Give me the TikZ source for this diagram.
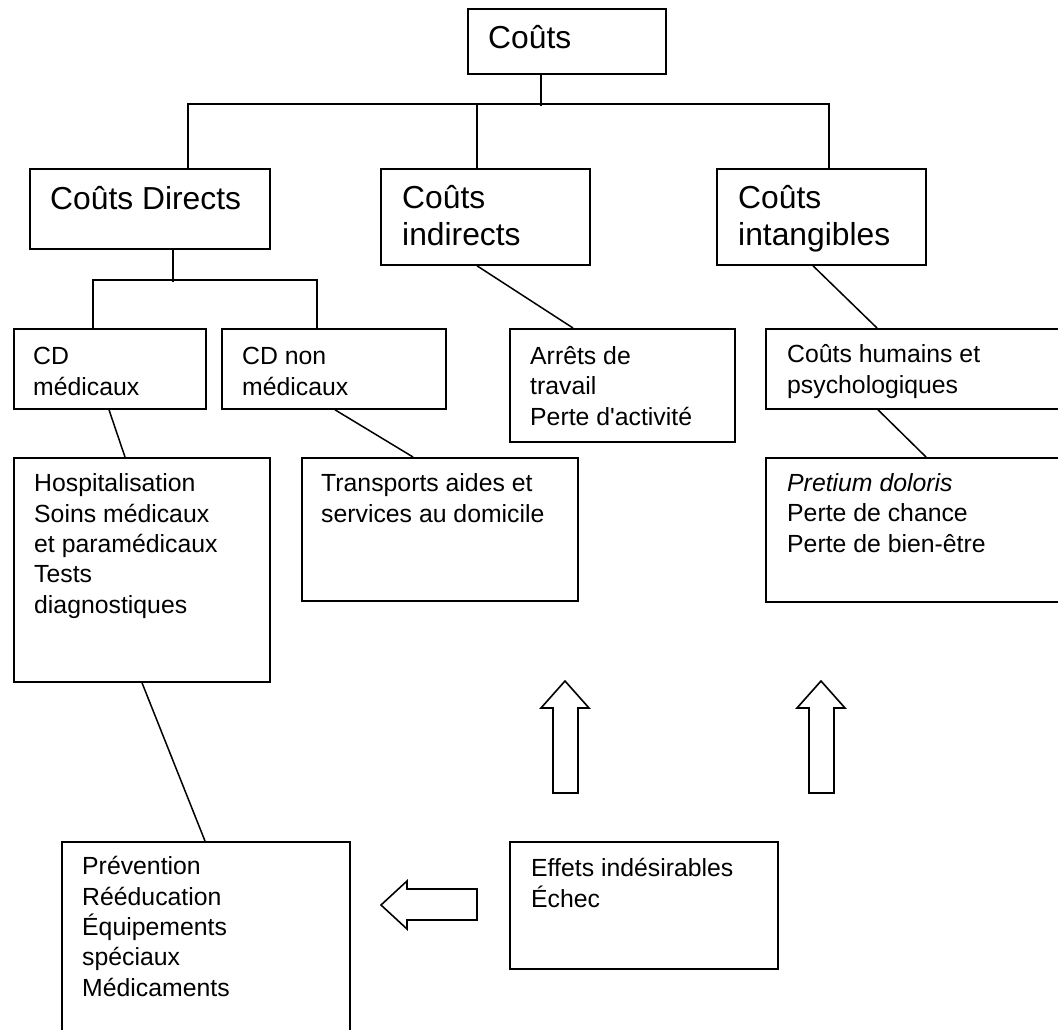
\documentclass[tikz,border=0pt]{standalone}
\usepackage{fontspec}
\setmainfont{Liberation Sans}
\begin{document}
\begin{tikzpicture}[x=1pt,y=-1pt,
  box/.style={draw, rectangle, line width=1.8pt, inner sep=0pt, anchor=north west},
  small/.style={font=\fontsize{24.8}{30.3}\selectfont, inner sep=0pt, anchor=base west, align=left},
  big/.style={font=\fontsize{31.8}{37}\selectfont, inner sep=0pt, anchor=base west, align=left},
  link/.style={line width=1.5pt},
  fat/.style={draw, line width=1.6pt, line join=miter}]
\clip (0,0) rectangle (1058,1030);
% boxes
\node[box, minimum width=198pt, minimum height=65pt] (couts) at (467,8) {};
\node[box, minimum width=240pt, minimum height=80pt] (cd) at (29,168) {};
\node[box, minimum width=209pt, minimum height=96pt] (ind) at (380,168) {};
\node[box, minimum width=209pt, minimum height=96pt] (intang) at (716,168) {};
\node[box, minimum width=192pt, minimum height=80pt] (cdmed) at (13,328) {};
\node[box, minimum width=224pt, minimum height=80pt] (cdnon) at (221,328) {};
\node[box, minimum width=225pt, minimum height=113pt] (arrets) at (509,328) {};
\node[box, minimum width=400pt, minimum height=80pt] (hum) at (765,328) {};
\node[box, minimum width=256pt, minimum height=224pt] (hosp) at (13,457) {};
\node[box, minimum width=276pt, minimum height=143pt] (transp) at (301,457) {};
\node[box, minimum width=400pt, minimum height=144pt] (pret) at (765,457) {};
\node[box, minimum width=288pt, minimum height=250pt] (prev) at (61,841) {};
\node[box, minimum width=268pt, minimum height=127pt] (effets) at (509,841) {};
% texts (anchor = baseline of the last line)
\node[big] (tcouts) at (488,49) {Coûts};
\node[big] (tcd) at (50,209) {Coûts Directs};
\node[big] (tind) at (402,245) {Coûts\\indirects};
\node[big] (tint) at (738,245) {Coûts\\intangibles};
\node[small] (tcdmed) at (33,395) {CD\\médicaux};
\node[small] (tcdnon) at (242,395) {CD non\\médicaux};
\node[small] (tarr) at (530,425) {Arrêts de\\travail\\Perte d\textquotesingle activité};
\node[small] (thum) at (787,393) {Coûts humains et\\psychologiques};
\node[small] (thosp) at (34,613) {Hospitalisation\\Soins médicaux\\et paramédicaux\\Tests\\diagnostiques};
\node[small] (ttr) at (321,522) {Transports aides et\\services au domicile};
\node[small] (tpret) at (787,552) {\textit{Pretium doloris}\\Perte de chance\\Perte de bien-être};
\node[small] (tprev) at (82,996) {Prévention\\Rééducation\\Équipements\\spéciaux\\Médicaments};
\node[small] (teff) at (531,907) {Effets indésirables\\Échec};
% tree connectors
\draw[link] ([xshift=74pt]couts.south west) -- ++(0,31);
\draw[link] ([xshift=159pt]cd.north west) -- ++(0,-64) -| ([xshift=113pt]intang.north west);
\draw[link] ([xshift=97pt]ind.north west) -- ++(0,-64);
\draw[link] ([xshift=144pt]cd.south west) -- ++(0,32);
\draw[link] ([xshift=80pt]cdmed.north west) -- ++(0,-48) -| ([xshift=96pt]cdnon.north west);
% diagonal connectors
\draw[link] ([xshift=97pt]ind.south west) -- ([xshift=64pt]arrets.north west);
\draw[link] ([xshift=97pt]intang.south west) -- ([xshift=112pt]hum.north west);
\draw[link] ([xshift=113pt]hum.south west) -- ([xshift=161pt]pret.north west);
\draw[link] ([xshift=96pt]cdmed.south west) -- ([xshift=112pt]hosp.north west);
\draw[link] ([xshift=114pt]cdnon.south west) -- ([xshift=112pt]transp.north west);
\draw[link] ([xshift=129pt]hosp.south west) -- ([xshift=144pt]prev.north west);
% block arrows
\draw[fat] (565,681) -- (589,708) -- (578,708) -- (578,793) -- (553,793) -- (553,708) -- (541,708) -- cycle;
\draw[fat] (821,681) -- (845,708) -- (834,708) -- (834,793) -- (809,793) -- (809,708) -- (797,708) -- cycle;
\draw[fat] (381,905) -- (407,881) -- (407,889) -- (477,889) -- (477,920) -- (407,920) -- (407,929) -- cycle;
\end{tikzpicture}
\end{document}
